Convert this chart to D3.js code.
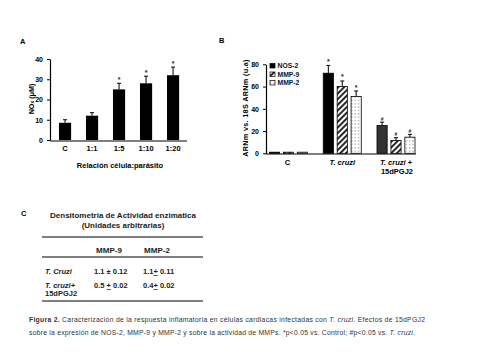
<!DOCTYPE html>
<html><head><meta charset="utf-8">
<script src="https://cdn.jsdelivr.net/npm/d3@7/dist/d3.min.js"></script>
<style>
body{margin:0;background:#fff;}
svg{display:block;font-family:"Liberation Sans",Arial,sans-serif;}
</style></head>
<body>
<svg id="c" width="480" height="360"></svg>
<script>
// Panel A data
const catsA = ["C","1:1","1:5","1:10","1:20"];
const valsA = [8.5, 12, 25, 28, 32];
const errA  = [1.5, 1.5, 3, 3.5, 4];
const sigA  = ["", "", "*", "*", "*"];
const ticksA = [0,10,20,30,40];

// Panel B data
const groupsB = ["C","T. cruzi","T. cruzi +"];
const seriesB = ["NOS-2","MMP-9","MMP-2"];
const nos2 = [1, 72, 25];
const mmp9 = [1, 60, 11.5];
const mmp2 = [1, 51, 14.5];
const nos2Err = [0, 7, 3];
const mmp9Err = [0, 5, 2.5];
const mmp2Err = [0, 5, 2.5];
const sigB = ["", "*", "#"];
const ticksB = [0,20,40,60,80];

// Panel C data
const tableTitle = ["Densitometria de Actividad enzimatica","(Unidades arbitrarias)"];
const tableCols = ["MMP-9","MMP-2"];
const tableRows = [["T. Cruzi"],["T. cruzi+","15dPGJ2"]];
const tableVals = [["1.1 ± 0.12","1.1+ 0.11"],["0.5 + 0.02","0.4+ 0.02"]];

// Caption pieces: [text, italic?]
const caption1 = [[" Caracterización de la respuesta inflamatoria en células cardiacas infectadas con ",false],["T. cruzi",true],[". Efectos de 15dPGJ2",false]];
const caption2 = [["sobre la expresión de NOS-2, MMP-9 y MMP-2 y sobre la actividad de MMPs. *p<0.05 vs. Control; #p<0.05 vs. ",false],["T. cruzi",true],[".",false]];

const svg = d3.select("#c");
const defs = svg.append("defs");
const stripe = defs.append("pattern").attr("id","stripe").attr("patternUnits","userSpaceOnUse")
  .attr("width",4).attr("height",4).attr("patternTransform","rotate(45)");
stripe.append("rect").attr("width",4).attr("height",4).attr("fill","#fff");
stripe.append("rect").attr("width",1.8).attr("height",4).attr("fill","#111");
const dots = defs.append("pattern").attr("id","dots").attr("patternUnits","userSpaceOnUse")
  .attr("width",3.4).attr("height",3.4);
dots.append("rect").attr("width",3.4).attr("height",3.4).attr("fill","#fff");
dots.append("rect").attr("x",1.2).attr("y",1.2).attr("width",0.9).attr("height",0.9).attr("fill","#333");

const ink = "#000";
const fs = 7.5;

// ---------- Panel A ----------
svg.append("text").attr("x",20).attr("y",44).attr("font-size",7.5).attr("font-weight","bold").text("A");
const xA = d3.scaleBand().domain(catsA).range([51.4,186.7]).paddingInner(0.55).paddingOuter(0.28);
const yA = d3.scaleLinear().domain([0,40]).range([140,59]);
const gA = svg.append("g");
gA.append("g").attr("transform","translate(50,0)")
  .call(d3.axisLeft(yA).tickValues(ticksA).tickSize(3).tickSizeOuter(0))
  .call(g=>{g.select(".domain").attr("stroke",ink).attr("stroke-width",1.2);
    g.selectAll(".tick line").attr("stroke",ink);
    g.selectAll("text").attr("font-size",7).attr("font-weight","bold").attr("fill",ink)
     .attr("font-family","'Liberation Sans',Arial,sans-serif").attr("dx",-1);});
gA.append("line").attr("x1",50).attr("x2",187).attr("y1",141).attr("y2",141).attr("stroke",ink).attr("stroke-width",1.2);
gA.selectAll("rect.bar").data(catsA).join("rect")
  .attr("x",d=>xA(d)).attr("width",xA.bandwidth())
  .attr("y",(d,i)=>yA(valsA[i])).attr("height",(d,i)=>yA(0)-yA(valsA[i])).attr("fill","#000");
catsA.forEach((d,i)=>{
  const cx = xA(d)+xA.bandwidth()/2;
  const top = yA(valsA[i]+errA[i]);
  gA.append("line").attr("x1",cx).attr("x2",cx).attr("y1",yA(valsA[i])).attr("y2",top).attr("stroke",ink).attr("stroke-width",1);
  gA.append("line").attr("x1",cx-2).attr("x2",cx+2).attr("y1",top).attr("y2",top).attr("stroke",ink).attr("stroke-width",1);
  if(sigA[i]) gA.append("text").attr("x",cx).attr("y",top-1).attr("text-anchor","middle").attr("font-size",7).attr("font-weight","bold").attr("fill","#223").text(sigA[i]);
  gA.append("text").attr("x",cx).attr("y",151).attr("text-anchor","middle").attr("font-size",fs).attr("font-weight","bold").attr("fill",ink).text(d);
});
gA.append("text").attr("x",120).attr("y",168).attr("text-anchor","middle").attr("font-size",fs).attr("font-weight","bold").attr("fill",ink).text("Relación célula:parásito");
gA.append("text").attr("transform","translate(34,99) rotate(-90)").attr("text-anchor","middle").attr("font-size",7.2).attr("font-weight","bold").attr("fill",ink)
  .call(t=>{t.append("tspan").text("NO");t.append("tspan").attr("font-size",5).text("x");t.append("tspan").text(" (μM)");});

// ---------- Panel B ----------
svg.append("text").attr("x",219).attr("y",43).attr("font-size",7.5).attr("font-weight","bold").text("B");
const xB = d3.scalePoint().domain(groupsB).range([288.5,396]);
const xS = d3.scaleBand().domain(seriesB).range([-19,19]).paddingInner(0.27);
const yB = d3.scaleLinear().domain([0,80]).range([153.3,64.3]);
const gB = svg.append("g");
gB.append("g").attr("transform","translate(266,0)")
  .call(d3.axisLeft(yB).tickValues(ticksB).tickSize(3).tickSizeOuter(0))
  .call(g=>{g.select(".domain").attr("stroke",ink).attr("stroke-width",1.2);
    g.selectAll(".tick line").attr("stroke",ink);
    g.selectAll("text").attr("font-size",7).attr("font-weight","bold").attr("fill",ink)
     .attr("font-family","'Liberation Sans',Arial,sans-serif").attr("dx",-1);});
gB.append("line").attr("x1",266).attr("x2",416).attr("y1",154).attr("y2",154).attr("stroke",ink).attr("stroke-width",1.2);
const seriesVals = [nos2,mmp9,mmp2];
const seriesErr = [nos2Err,mmp9Err,mmp2Err];
const fills = ["#000","url(#stripe)","url(#dots)"];
groupsB.forEach((g,gi)=>{
  seriesB.forEach((s,si)=>{
    const v = seriesVals[si][gi], e = seriesErr[si][gi];
    const x0 = xB(g)+xS(s), w = xS.bandwidth();
    let fill = si===0 ? (gi===2?"#333":"#000") : fills[si];
    gB.append("rect").attr("x",x0).attr("width",w).attr("y",yB(v)).attr("height",yB(0)-yB(v))
      .attr("fill",fill).attr("stroke",ink).attr("stroke-width",0.8);
    if(e>0){
      const cx = x0+w/2, top=yB(v+e);
      gB.append("line").attr("x1",cx).attr("x2",cx).attr("y1",yB(v)).attr("y2",top).attr("stroke",ink).attr("stroke-width",1);
      gB.append("line").attr("x1",cx-2).attr("x2",cx+2).attr("y1",top).attr("y2",top).attr("stroke",ink).attr("stroke-width",1);
      if(sigB[gi]) gB.append("text").attr("x",cx).attr("y",top-1.5).attr("text-anchor","middle").attr("font-size",sigB[gi]==="#"?5:7).attr("font-weight","bold").attr("fill","#223").text(sigB[gi]);
    }
  });
});
gB.append("text").attr("x",xB("C")-1).attr("y",165).attr("text-anchor","middle").attr("font-size",fs).attr("font-weight","bold").attr("fill",ink).text("C");
gB.append("text").attr("x",xB("T. cruzi")).attr("y",165).attr("text-anchor","middle").attr("font-size",fs).attr("font-weight","bold").attr("font-style","italic").attr("fill",ink).text("T. cruzi");
gB.append("text").attr("x",xB("T. cruzi +")).attr("y",165).attr("text-anchor","middle").attr("font-size",fs).attr("font-weight","bold").attr("fill",ink)
  .call(t=>{t.append("tspan").attr("font-style","italic").text("T. cruzi");t.append("tspan").text(" +");});
gB.append("text").attr("x",xB("T. cruzi +")+1).attr("y",174).attr("text-anchor","middle").attr("font-size",fs).attr("font-weight","bold").attr("fill",ink).text("15dPGJ2");
gB.append("text").attr("transform","translate(248,108) rotate(-90)").attr("text-anchor","middle").attr("font-size",7.2).attr("font-weight","bold").attr("fill",ink).attr("letter-spacing",0.35)
  .text("ARNm vs. 18S ARNm (u.a)");
// legend
seriesB.forEach((s,i)=>{
  const y = 63.5 + i*8.5;
  gB.append("rect").attr("x",270).attr("y",y).attr("width",5).attr("height",4.5).attr("fill",fills[i]).attr("stroke",ink).attr("stroke-width",0.7);
  gB.append("text").attr("x",277.5).attr("y",y+4.6).attr("font-size",6.8).attr("font-weight","bold").attr("fill","#112").text(s);
});

// ---------- Panel C ----------
svg.append("text").attr("x",21).attr("y",216).attr("font-size",7.5).attr("font-weight","bold").text("C");
const gC = svg.append("g").attr("fill","#222").attr("font-size",8).attr("font-weight","bold");
tableTitle.forEach((t,i)=>gC.append("text").attr("x",123).attr("y",218+i*10).attr("text-anchor","middle").text(t));
[237,257,301].forEach(y=>gC.append("line").attr("x1",42).attr("x2",203).attr("y1",y).attr("y2",y).attr("stroke",ink).attr("stroke-width",1));
const colX = [109,157];
tableCols.forEach((c,i)=>gC.append("text").attr("x",colX[i]).attr("y",253).attr("text-anchor","middle").text(c));
const rowY = [274,288];
tableRows.forEach((r,ri)=>{
  r.forEach((line,li)=>gC.append("text").attr("x",45).attr("y",rowY[ri]+li*8).attr("font-size",7.5).attr("font-style",li===0?"italic":"normal").text(line));
  tableVals[ri].forEach((v,ci)=>{
    const t = gC.append("text").attr("x",[94,143][ci]).attr("y",rowY[ri]).attr("font-size",7.5);
    const parts = v.split("+");
    if(parts.length===2){
      t.append("tspan").text(parts[0]);
      t.append("tspan").attr("text-decoration","underline").text("+");
      t.append("tspan").text(parts[1]);
    } else t.text(v);
  });
});

// ---------- Caption ----------
const cap = svg.append("g").attr("font-size",6.8).attr("fill","#333");
const l1 = cap.append("text").attr("x",29).attr("y",322).attr("textLength",396).attr("lengthAdjust","spacing");
l1.append("tspan").attr("font-weight","bold").text("Figura 2.");
caption1.forEach(([s,it])=>l1.append("tspan").attr("font-style",it?"italic":"normal").text(s));
const l2 = cap.append("text").attr("x",29).attr("y",335).attr("textLength",386).attr("lengthAdjust","spacing");
caption2.forEach(([s,it])=>l2.append("tspan").attr("font-style",it?"italic":"normal").text(s));
</script>
</body></html>
